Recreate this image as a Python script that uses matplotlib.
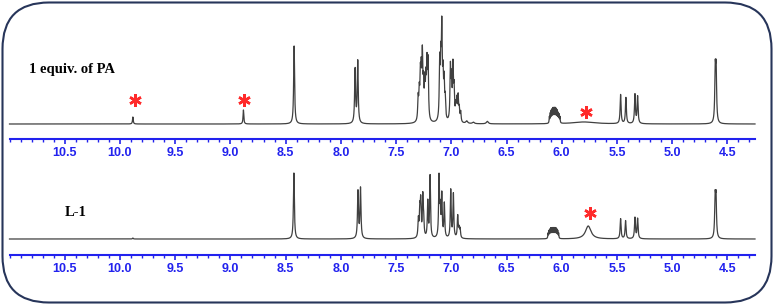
import numpy as np
import matplotlib
matplotlib.use("Agg")
import matplotlib.pyplot as plt
from matplotlib.patches import FancyBboxPatch
from matplotlib.ticker import MultipleLocator, FixedLocator, FixedFormatter

# ---------------- data ----------------
# peak lists: chemical shift (ppm), line height (intensity units), half width (ppm)
top_ppm = [9.883, 8.882, 8.423, 7.871, 7.847,
           7.300, 7.290, 7.280, 7.272, 7.262, 7.252, 7.240, 7.230, 7.220, 7.210,
           7.105, 7.095, 7.086, 7.075, 7.065, 7.055,
           7.008, 6.998, 6.985, 6.975, 6.960, 6.950, 6.938, 6.928, 6.915,
           6.860, 6.800, 6.674,
           6.112, 6.104, 6.096, 6.088, 6.080, 6.072, 6.064, 6.056, 6.048, 6.040, 6.032, 6.024, 6.016,
           5.800,
           5.467, 5.419, 5.337, 5.313,
           4.610, 4.602]
top_int = [7, 14, 78, 54, 62,
           22, 26, 40, 42, 60, 32, 34, 36, 52, 56,
           56, 52, 86, 40, 36, 20,
           52, 38, 52, 30, 14, 20, 24, 12, 10,
           2.5, 1.5, 2.5,
           6, 9, 11, 12, 13, 13, 13, 13, 12, 11, 9, 8, 6,
           2,
           29, 26, 29, 27,
           50, 50]
top_w = [0.004, 0.004, 0.005, 0.005, 0.005] + [0.0045] * 25 + [0.01, 0.01, 0.01] + \
        [0.0025] * 13 + [0.12] + [0.005] * 4 + [0.005, 0.005]

bot_ppm = [9.883, 8.425, 7.845, 7.822,
           7.298, 7.285, 7.277, 7.258, 7.250, 7.213, 7.192,
           7.111, 7.100, 7.086, 7.063,
           7.005, 6.981, 6.942, 6.930, 6.920,
           6.124, 6.116, 6.108, 6.100, 6.092, 6.084, 6.076, 6.068, 6.060, 6.052, 6.044, 6.036, 6.028,
           5.760,
           5.467, 5.422, 5.337, 5.313,
           4.611, 4.603]
bot_int = [1, 66, 47, 50,
           18, 26, 34, 40, 16, 36, 62,
           60, 26, 42, 34,
           48, 44, 22, 9, 9,
           5, 7, 8, 9, 9, 9, 9, 9, 9, 9, 8, 7, 5,
           13,
           20, 18, 21, 20,
           38, 38]
bot_w = [0.004, 0.005, 0.005, 0.005] + [0.0045] * 16 + [0.0025] * 13 + [0.03] + \
        [0.005] * 4 + [0.005, 0.005]

tick_vals = [10.5, 10.0, 9.5, 9.0, 8.5, 8.0, 7.5, 7.0, 6.5, 6.0, 5.5, 5.0, 4.5]
tick_labels = ["10.5", "10.0", "9.5", "9.0", "8.5", "8.0", "7.5", "7.0", "6.5",
               "6.0", "5.5", "5.0", "4.5"]

top_label = "1 equiv. of PA"
bot_label = "L-1"
top_stars = [9.862, 8.876, 5.783]
top_star_y = [24, 24, 12.5]
bot_stars = [5.744]
bot_star_y = [26.5]

XMAX, XMIN = 11.0, 4.25

# ---------------- figure ----------------
W, H = 774, 305
fig = plt.figure(figsize=(W / 100, H / 100), dpi=100)

border = FancyBboxPatch((2.5 / W, 2.5 / H), (W - 5) / W, (H - 5) / H,
                        boxstyle="round,pad=0,rounding_size=0.06",
                        transform=fig.transFigure, fill=False,
                        edgecolor="#27355a", linewidth=1.5,
                        mutation_aspect=W / H)
fig.patches.append(border)

grid = np.linspace(XMAX, XMIN, 30000)


def spectrum(ppm, inten, width):
    y = np.zeros_like(grid)
    for p, h, w in zip(ppm, inten, width):
        y += h / (1.0 + ((grid - p) / w) ** 2)
    return y


blue = "#2222ee"


def make_axes(px_bottom, px_top, base_off):
    left = 9.5 / W
    width = 745.5 / W
    ax = fig.add_axes([left, 1 - px_bottom / H, width, (px_bottom - px_top) / H])
    ax.set_xlim(XMAX, XMIN)
    ax.set_ylim(-base_off, px_bottom - px_top - base_off)
    for s in ("top", "left", "right"):
        ax.spines[s].set_visible(False)
    ax.spines["bottom"].set_color(blue)
    ax.spines["bottom"].set_linewidth(1.5)
    ax.set_yticks([])
    ax.xaxis.set_major_locator(FixedLocator(tick_vals))
    ax.xaxis.set_major_formatter(FixedFormatter(tick_labels))
    ax.xaxis.set_minor_locator(MultipleLocator(0.1))
    ax.tick_params(axis="x", which="major", direction="out", length=3.5, width=1.2,
                   color=blue, labelcolor=blue, labelsize=9, pad=2.2)
    ax.tick_params(axis="x", which="minor", direction="out", length=2, width=1.0,
                   color=blue)
    for lab in ax.get_xticklabels():
        lab.set_fontweight("bold")
        lab.set_family(["Liberation Sans", "DejaVu Sans"])
    ax.patch.set_alpha(0)
    return ax


ax1 = make_axes(139, 5, 15)
ax1.plot(grid, spectrum(top_ppm, top_int, top_w), color="#404040", lw=0.9, clip_on=False)
ax1.plot(top_stars, top_star_y, ls="none", marker=(6, 2, 0), ms=9, mew=1.8,
         color="#ff2a2a", clip_on=False)
ax1.text(10.82, 54, top_label, fontsize=10.5, fontweight="bold",
         family=["Liberation Serif", "DejaVu Serif"], va="center", ha="left")

ax2 = make_axes(255, 150, 16)
ax2.plot(grid, spectrum(bot_ppm, bot_int, bot_w), color="#404040", lw=0.9, clip_on=False)
ax2.plot(bot_stars, bot_star_y, ls="none", marker=(6, 2, 0), ms=9, mew=1.8,
         color="#ff2a2a", clip_on=False)
ax2.text(10.5, 26.5, bot_label, fontsize=10.5, fontweight="bold",
         family=["Liberation Serif", "DejaVu Serif"], va="center", ha="left")

fig.savefig("out.png", dpi=100)
